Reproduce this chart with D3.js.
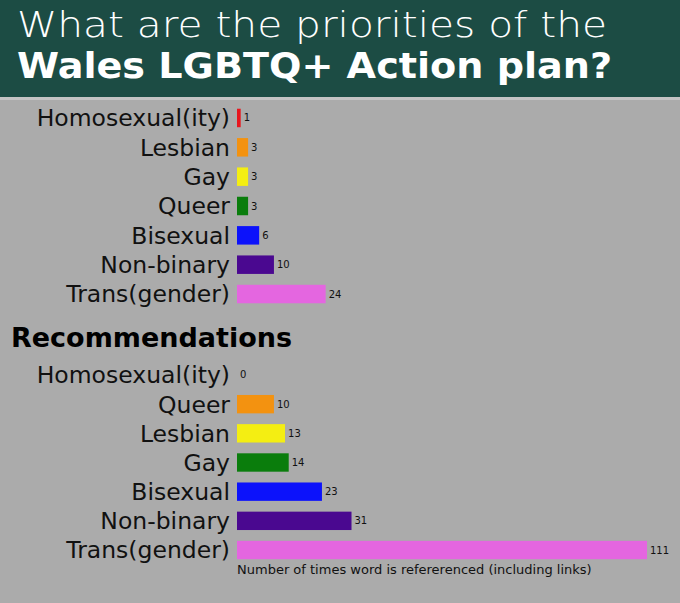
<!DOCTYPE html>
<html lang="en">
<head>
  <meta charset="UTF-8">
  <title>Wales LGBTQ+ Action plan</title>
  <style>
    body { margin: 0; background: #ababab; }
    svg { display: block; }
    .label { font-family: "DejaVu Sans", sans-serif; fill: #111; }
  </style>
</head>
<body>
  <svg width="680" height="603"></svg>
  <script src="https://d3js.org/d3.v7.min.js"></script>
  <script>
    const width = 680;
    const height = 603;

    // priorities section
    const planCategories = ["Homosexual(ity)", "Lesbian", "Gay", "Queer", "Bisexual", "Non-binary", "Trans(gender)"];
    const planValues = [1, 3, 3, 3, 6, 10, 24];

    // recommendations section
    const recCategories = ["Homosexual(ity)", "Queer", "Lesbian", "Gay", "Bisexual", "Non-binary", "Trans(gender)"];
    const recValues = [0, 10, 13, 14, 23, 31, 111];

    // bar colours go by rank, not by word
    const colors = ["#e8161e", "#f39210", "#f4ee12", "#0a7d0c", "#0c12fb", "#4a0890", "#e466e0"];

    const svg = d3.select("svg");

    // background + header
    svg.append("rect")
      .attr("width", width)
      .attr("height", height)
      .attr("fill", "#ababab");

    svg.append("rect")
      .attr("width", width)
      .attr("height", 97)
      .attr("fill", "#1c4c44");

    svg.append("rect")
      .attr("y", 97)
      .attr("width", width)
      .attr("height", 3)
      .attr("fill", "#c4c4c4");

    svg.append("text")
      .attr("x", 17)
      .attr("y", 37)
      .attr("fill", "#fff")
      .style("font-family", "'DejaVu Sans', sans-serif")
      .style("font-weight", 200)
      .style("font-size", "35px")
      .attr("textLength", 590)
      .attr("lengthAdjust", "spacingAndGlyphs")
      .text("What are the priorities of the");

    svg.append("text")
      .attr("x", 17)
      .attr("y", 78)
      .attr("fill", "#fff")
      .style("font-family", "'DejaVu Sans', sans-serif")
      .style("font-weight", "bold")
      .style("font-size", "36px")
      .attr("textLength", 595)
      .attr("lengthAdjust", "spacingAndGlyphs")
      .text("Wales LGBTQ+ Action plan?");

    // one shared scale for both sections
    const x = d3.scaleLinear()
      .domain([0, 111])
      .range([237, 647]);

    const drawSection = (cats, vals, y0, y1) => {
      const y = d3.scaleBand()
        .domain(cats)
        .range([y0, y1])
        .paddingInner(0.37)
        .paddingOuter(0.185);

      const rows = cats.map((c, i) => ({ name: c, value: vals[i], color: colors[i] }));
      const g = svg.append("g");

      g.selectAll(".cat")
        .data(rows)
        .enter()
        .append("text")
        .attr("class", "label cat")
        .attr("x", 230)
        .attr("y", (d) => y(d.name) + y.bandwidth() / 2)
        .attr("dy", "0.36em")
        .attr("text-anchor", "end")
        .style("font-size", "23.5px")
        .text((d) => d.name);

      g.selectAll(".bar")
        .data(rows)
        .enter()
        .append("rect")
        .attr("class", "bar")
        .attr("x", x(0))
        .attr("y", (d) => y(d.name))
        .attr("width", (d) => x(d.value) - x(0))
        .attr("height", y.bandwidth())
        .attr("fill", (d) => d.color);

      g.selectAll(".val")
        .data(rows)
        .enter()
        .append("text")
        .attr("class", "label val")
        .attr("x", (d) => x(d.value) + 3)
        .attr("y", (d) => y(d.name) + y.bandwidth() / 2)
        .attr("dy", "0.35em")
        .style("font-size", "10px")
        .text((d) => d.value);
    };

    drawSection(planCategories, planValues, 103.3, 308.7);

    svg.append("text")
      .attr("class", "label")
      .attr("x", 11)
      .attr("y", 347)
      .style("font-size", "27px")
      .style("font-weight", "bold")
      .style("fill", "#000")
      .text("Recommendations");

    drawSection(recCategories, recValues, 360.4, 564.6);

    svg.append("text")
      .attr("class", "label")
      .attr("x", 237)
      .attr("y", 574)
      .style("font-size", "13px")
      .text("Number of times word is refererenced (including links)");
  </script>
</body>
</html>
